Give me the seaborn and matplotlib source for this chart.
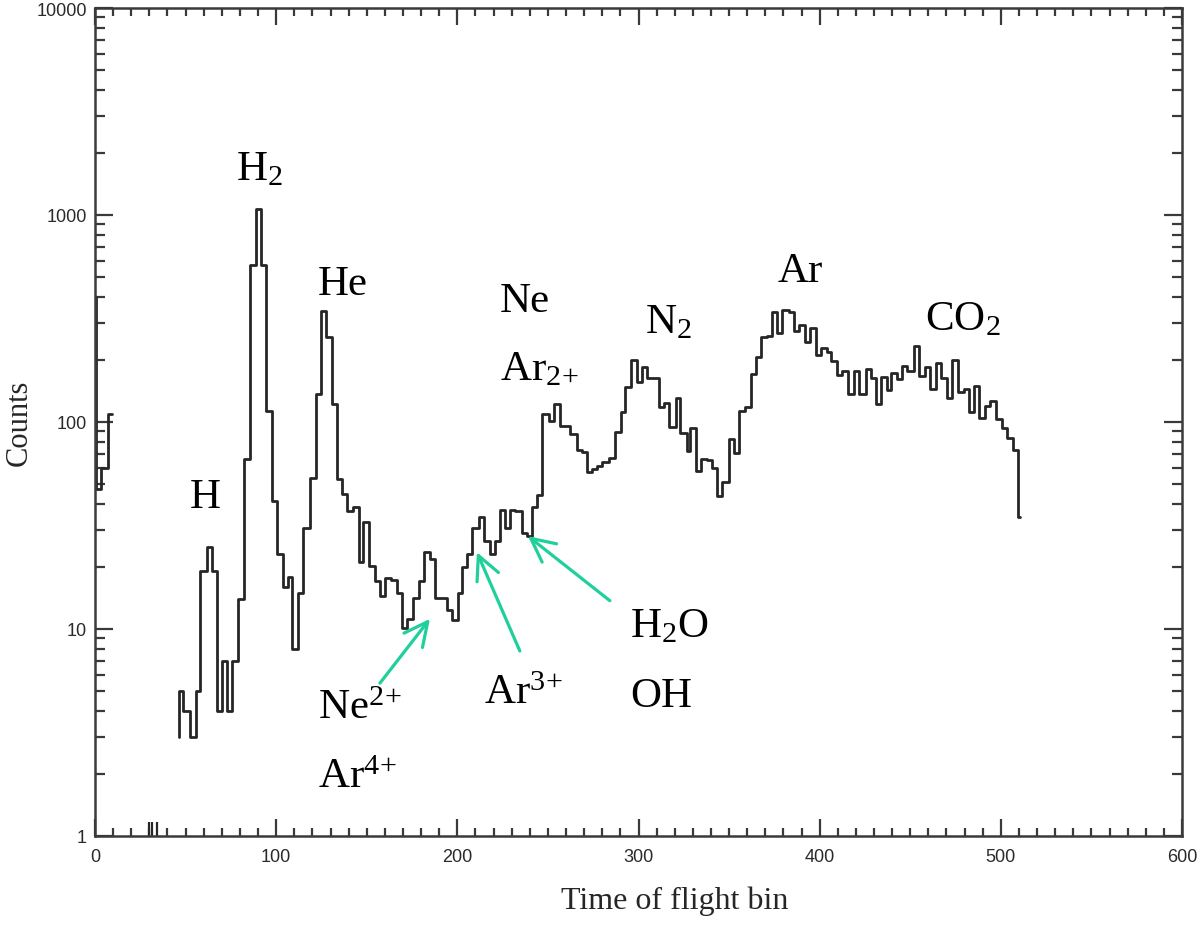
import matplotlib
matplotlib.use('Agg')
import matplotlib.pyplot as plt
from matplotlib.ticker import MultipleLocator, LogLocator, NullFormatter, FuncFormatter
import seaborn as sns

# ---- data ----
# main spectrum: bin edges (time of flight bin) and counts per step
tof_edges = [46.6, 46.6, 48.8, 52.5, 55.5, 58.0, 61.7, 64.5, 67.2, 70.0, 72.7, 75.5, 79.2, 82.0,
             85.6, 88.9, 91.7, 94.5, 97.6, 100.7, 103.5, 106.3, 109.0, 112.3, 114.7, 118.4, 121.9,
             124.7, 127.6, 130.8, 133.5, 136.3, 139.0, 142.4, 145.5, 148.2, 151.0, 154.7, 157.5,
             160.2, 163.5, 166.7, 169.4, 172.2, 175.5, 178.6, 181.4, 184.7, 187.8, 191.0, 194.3,
             197.0, 200.2, 202.6, 205.3, 208.1, 211.8, 214.5, 217.9, 221.0, 223.4, 226.5, 229.3,
             232.0, 235.7, 238.5, 241.2, 244.0, 246.8, 250.5, 253.2, 256.5, 259.4, 262.4, 266.1,
             268.9, 271.6, 274.4, 277.2, 279.9, 283.6, 287.3, 290.1, 292.8, 295.6, 299.3, 302.1,
             304.8, 308.0, 311.3, 314.0, 316.8, 320.6, 322.8, 326.6, 328.7, 332.0, 334.6, 337.9,
             340.7, 343.4, 346.2, 349.9, 352.7, 355.4, 358.6, 361.9, 364.6, 367.8, 370.9, 373.9,
             376.6, 379.4, 383.1, 385.8, 388.6, 391.7, 394.7, 397.8, 400.6, 403.9, 406.5, 409.8,
             412.6, 415.5, 419.0, 421.7, 425.4, 428.2, 430.9, 433.7, 437.0, 439.6, 442.5, 445.3,
             448.4, 452.1, 454.9, 458.0, 461.0, 464.1, 466.9, 470.2, 473.0, 476.4, 479.4, 482.2,
             485.3, 488.0, 491.2, 494.1, 497.3, 500.4, 503.3, 506.5, 509.2, 510.8]
tof_counts = [3.0, 5.0, 4.0, 3.0, 5.0, 19, 25, 19, 4.0, 7.0, 4.0, 7.0, 14, 66,
              575, 1070, 575, 113, 41.5, 23, 16, 17.8, 8.0, 15, 30.8, 53.6, 137,
              344, 257, 122, 53, 44.8, 37, 39, 21, 33, 20.2, 17.0, 14.5,
              17.6, 17.3, 15.0, 10.1, 11.2, 14.1, 17.1, 23.6, 21.8, 14.1, 14.1, 12.3,
              11.1, 15.0, 19.9, 23.0, 30.6, 34.6, 26.5, 23.0, 26.5, 37.6, 30.6, 37.6,
              37.0, 29.1, 28.0, 38.9, 44.5, 109, 101, 122, 96, 96, 87.5, 73.4,
              71.9, 57.1, 59.5, 61.6, 63.8, 66.7, 89.8, 112, 147, 200, 156, 184,
              163, 163, 118, 124, 94.2, 130, 88.5, 72.6, 93.2, 58.2, 66.2, 65.3,
              60, 44, 51.5, 82.8, 70.8, 113, 118, 171, 205, 257, 259, 341,
              268, 348, 341, 276, 294, 243, 283, 211, 229, 219, 198, 169,
              177, 137, 177, 137, 180, 164, 122, 165, 143, 172, 161, 187,
              176, 234, 167, 184, 144, 193, 164, 130, 200, 139, 144, 112,
              150, 105, 120, 126, 103, 93.3, 83.7, 73.2, 34.6]

# short piece right at the start of the axis
early_edges = [0.0, 0.7, 3.5, 7.2, 9.4]
early_counts = [400, 47.5, 60, 109]

# tiny single-count blips near the bottom
blip_bins = [29.6, 31.4, 34.4]
blip_tops = [1.17, 1.17, 1.17]

# peak labels: text, x, y (data coords, left/baseline)
peak_labels = ['H', r'H$_2$', 'He', 'Ne', r'Ar$_{2\!+}$', r'N$_2$', 'Ar', r'CO$_2$',
               r'Ne$^{2\!+}$', r'Ar$^{4\!+}$', r'Ar$^{3\!+}$', r'H$_2$O', 'OH']
label_x = [52.4, 77.8, 123.1, 223.5, 223.5, 303.5, 376.9, 458.0,
           123.1, 123.1, 214.7, 295.3, 295.3]
label_y = [38.8, 1493, 415, 344, 160, 272, 480, 281,
           3.72, 1.72, 4.39, 9.25, 4.25]

# green arrows: tail -> head
arrow_tail_x = [157.3, 234.5, 284.2]
arrow_tail_y = [5.48, 7.83, 13.7]
arrow_head_x = [184.9, 210.8, 239.0]
arrow_head_y = [11.2, 23.5, 28.1]

sns.set_style('ticks')
plt.rcParams['font.family'] = ['Liberation Sans', 'DejaVu Sans']
plt.rcParams['mathtext.fontset'] = 'custom'
plt.rcParams['mathtext.rm'] = 'Liberation Serif'
plt.rcParams['mathtext.it'] = 'Liberation Serif:italic'
plt.rcParams['mathtext.bf'] = 'Liberation Serif:bold'

line_col = '#262626'
axis_col = '#3a3a3a'
green = '#1fcf9c'
serif = ['Liberation Serif', 'DejaVu Serif']

fig = plt.figure(figsize=(12, 9.28), dpi=100)
ax = fig.add_axes([95 / 1200, 91 / 928, 1087 / 1200, 828 / 928])

# histogram steps
sns.lineplot(x=tof_edges, y=tof_counts + [tof_counts[-1]], drawstyle='steps-post',
             estimator=None, sort=False, color=line_col, lw=2.0, ax=ax)
sns.lineplot(x=early_edges, y=early_counts + [early_counts[-1]], drawstyle='steps-post',
             estimator=None, sort=False, color=line_col, lw=2.0, ax=ax)
ax.vlines(blip_bins, 1, blip_tops, color=line_col, lw=1.6)

ax.set_yscale('log')
ax.set_xlim(0, 600)
ax.set_ylim(1, 10000)

ax.xaxis.set_major_locator(MultipleLocator(100))
ax.xaxis.set_minor_locator(MultipleLocator(10))
ax.yaxis.set_major_locator(LogLocator(base=10))
ax.yaxis.set_minor_locator(LogLocator(base=10, subs=range(2, 10)))
ax.yaxis.set_major_formatter(FuncFormatter(lambda v, p: f'{int(round(v))}'))
ax.yaxis.set_minor_formatter(NullFormatter())

ax.tick_params(which='both', direction='in', top=True, right=True,
               color=axis_col, width=1.6, labelsize=13, labelcolor='#2a2a2a')
ax.tick_params(axis='x', which='major', length=12, pad=8.5)
ax.tick_params(axis='x', which='minor', length=6)
ax.tick_params(axis='y', which='major', length=13, pad=6)
ax.tick_params(axis='y', which='minor', length=7.5)
for sp in ax.spines.values():
    sp.set_linewidth(1.8)
    sp.set_color(axis_col)

# the x title sits a bit right of centre in the original
ax.set_xlabel('Time of flight bin', fontfamily=serif, fontsize=23, labelpad=15, x=0.533)
ax.set_ylabel('Counts', fontfamily=serif, fontsize=22, labelpad=2)

for txt, x, y in zip(peak_labels, label_x, label_y):
    ax.text(x, y, txt, fontfamily=serif, fontsize=31, ha='left', va='baseline', color='black')

for tx, ty, hx, hy in zip(arrow_tail_x, arrow_tail_y, arrow_head_x, arrow_head_y):
    ax.annotate('', xy=(hx, hy), xytext=(tx, ty),
                arrowprops=dict(arrowstyle='->,head_length=0.85,head_width=0.42',
                                color=green, lw=2.3, mutation_scale=20,
                                shrinkA=0, shrinkB=0))

fig.savefig('out.png', dpi=100)
